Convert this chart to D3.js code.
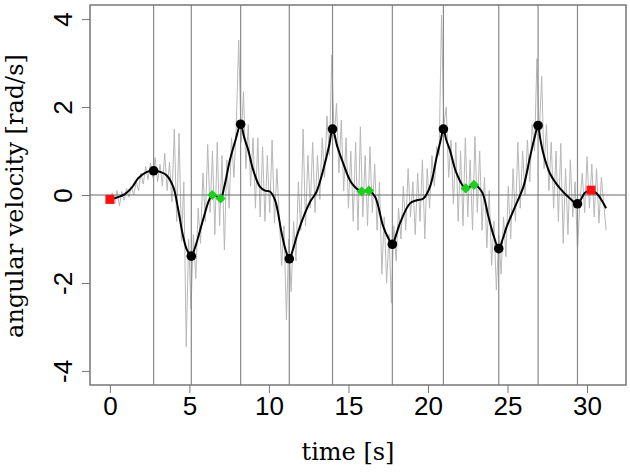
<!DOCTYPE html>
<html>
<head>
<meta charset="utf-8">
<script src="https://cdn.jsdelivr.net/npm/d3@7"></script>
<style>
	body { margin: 0; background: #fff; }
	svg { display: block; }
	.tick text { font-family: "Liberation Sans", Arial, sans-serif; font-size: 26px; fill: #000; }
	.ax_label { font-family: "DejaVu Serif", serif; font-size: 24px; fill: #000; }
</style>
</head>
<body>
<svg id="chart" width="630" height="475"></svg>
<script>
// raw signal, sampled every 0.15 s
let raw_dt = 0.15;
let raw_vals = [
	-0.08, 0.05, -0.2, 0.1, -0.25, 0.08, -0.12, 0.15, -0.05, 0.2, 0.0,
	0.3, 0.1, 0.5, 0.25, 0.65, 0.35, 0.72, 0.4,
	0.85, 0.3, 0.7, 0.2, 0.95, 0.1, 0.75, -0.15,
	1.5, -0.6, 1.4, -1.05, 0.3,
	-3.45, -1.0, -2.6, -0.9, -1.9,
	-0.3, -1.1, 0.5, -0.6, 1.15, -0.4, 1.0, -0.9, 1.2, -0.7, 0.9,
	-1.25, 0.8, -0.3, 1.3, 0.4, 1.6,
	3.52, 1.2,
	2.35, 0.6, 1.6, 0.2, 1.3,
	-0.3, 1.3, -0.5, 1.1, -0.6, 0.9, -0.4, 1.25, -0.64, 0.6, -0.5,
	-1.6, -0.7, -2.84, -1.0, -2.2, -0.6,
	-1.5, 0.3, -0.8, 1.5, -0.7, 0.9, -0.3, 1.2, -0.4,
	0.9, -0.1, 1.3, 0.4, 1.8, 0.9,
	3.18, 1.3,
	2.08, 0.5, 1.7, 0.1, 1.3, -0.3, 1.0,
	-0.6, 1.2, -0.8, 1.55, -0.5, 0.9, -0.7, 1.1, -0.4, 0.7, -0.8,
	0.3, -1.8, -0.5, -2.0, -0.9, -2.46, -0.7,
	-1.5, -0.3, -1.0, 0.2, -0.8, 0.6, -0.5, 0.3, -0.9, 0.5, -0.6, 0.8, -1.0, 0.6, -0.3, 0.9, 0.2, 1.1,
	0.9, 4.09, 1.6,
	2.0, 0.4, 1.25, -0.2, 1.2, -0.6, 1.0, -0.7, 1.3, -0.5, 0.8, -0.8, 1.33,
	-0.4, 1.0, -0.8, 0.4, -1.2, 0.1,
	-1.6, -0.6, -2.16, -0.9, -1.8, -0.5,
	-1.4, 0.2, -1.0, 0.6, -0.6, 1.2, -0.3, 1.0, 0.0, 1.25, 0.3,
	1.6, 1.0,
	3.1, 1.4, 2.7,
	0.6, 1.6, 0.1, 1.2, -0.3, 1.0, -0.6, 1.17, -1.1, 0.6, -0.9, 0.8, -0.5,
	0.3, -1.25, -0.2, 0.5,
	-0.4, 0.87, -0.3, 0.7, -0.5, 0.6, -0.64, 0.4, -0.2, -0.8
];

// smoothed signal
let smooth_t = [0, 0.5, 0.94, 1.4, 1.78, 2.3, 2.75, 3.2, 3.56, 3.98, 4.3, 4.61, 4.85, 5.12, 5.35, 5.56, 5.97, 6.2, 6.44, 6.7, 6.96, 7.2, 7.55, 7.9, 8.22, 8.45, 8.7, 9.01, 9.43, 9.75, 10.06, 10.38, 10.8, 11.05, 11.28, 11.5, 11.74, 12.26, 12.6, 13.0, 13.52, 13.8, 14.0, 14.3, 14.67, 15.2, 15.83, 16.29, 16.67, 17.19, 17.5, 17.76, 18.0, 18.24, 18.87, 19.3, 19.71, 20.13, 20.55, 20.8, 20.97, 21.15, 21.38, 21.8, 22.37, 22.89, 23.38, 23.8, 24.15, 24.45, 24.7, 24.95, 25.47, 26.0, 26.42, 26.7, 26.92, 27.05, 27.25, 27.67, 28.3, 28.93, 29.4, 29.87, 30.25, 30.6, 31.2];
let smooth_v = [-0.1, -0.05, 0.02, 0.18, 0.38, 0.52, 0.55, 0.52, 0.45, 0.19, -0.34, -0.95, -1.25, -1.39, -1.2, -0.95, -0.42, -0.15, 0.0, -0.03, -0.08, 0.2, 0.8, 1.25, 1.61, 1.3, 1.02, 0.57, 0.19, 0.1, 0.08, -0.11, -0.87, -1.25, -1.45, -1.25, -0.95, -0.42, -0.15, 0.08, 0.72, 1.15, 1.5, 1.1, 0.72, 0.27, 0.08, 0.1, -0.04, -0.72, -0.98, -1.12, -0.9, -0.64, -0.19, -0.12, -0.08, 0.19, 0.87, 1.25, 1.5, 1.25, 1.02, 0.49, 0.15, 0.23, 0.08, -0.49, -0.95, -1.22, -1.0, -0.72, -0.27, 0.19, 0.87, 1.3, 1.58, 1.3, 0.95, 0.49, 0.15, -0.08, -0.2, 0.05, 0.11, 0.04, -0.3];

// extrema (black), start/end (red), plateau points (green)
let ext_t = [2.75, 5.12, 8.22, 11.28, 14.0, 17.76, 20.97, 24.45, 26.92, 29.4];
let ext_v = [0.55, -1.39, 1.61, -1.45, 1.5, -1.12, 1.5, -1.22, 1.58, -0.2];
let red_t = [0.0, 30.25];
let red_v = [-0.1, 0.11];
let green_t = [6.44, 6.96, 15.83, 16.29, 22.37, 22.89];
let green_v = [0.0, -0.08, 0.08, 0.1, 0.15, 0.23];

let x_ticks = [0, 5, 10, 15, 20, 25, 30];
let y_ticks = [-4, -2, 0, 2, 4];

let margin = {left: 90, top: 5, right: 4, bottom: 90};
let width = 630, height = 475;

let svg = d3.select("#chart");

let x = d3.scaleLinear()
	.domain([-1.25, 32.45])
	.range([margin.left, width - margin.right]);
let y = d3.scaleLinear()
	.domain([-4.32, 4.32])
	.range([height - margin.bottom, margin.top]);

let raw = raw_vals.map((v, i) => [i * raw_dt, v]);
let smooth = smooth_t.map((t, i) => [t, smooth_v[i]]);

let line = d3.line()
	.x(d => x(d[0]))
	.y(d => y(d[1]));

svg.append("path")
	.datum(raw)
	.attr("d", line)
	.style("fill", "none")
	.style("stroke", "#b8b8b8")
	.style("stroke-width", "1px");

// vertical markers at the extrema
svg.selectAll(".vline")
	.data(ext_t)
	.enter()
	.append("line")
	.attr("class", "vline")
	.attr("x1", d => x(d))
	.attr("x2", d => x(d))
	.attr("y1", y.range()[0])
	.attr("y2", y.range()[1])
	.style("stroke", "#8a8a8a")
	.style("stroke-width", "1.2px");

svg.append("line")
	.attr("x1", x.range()[0])
	.attr("x2", x.range()[1])
	.attr("y1", y(0))
	.attr("y2", y(0))
	.style("stroke", "#6a6a6a")
	.style("stroke-width", "1.2px");

svg.append("path")
	.datum(smooth)
	.attr("d", line.curve(d3.curveCatmullRom.alpha(0.5)))
	.style("fill", "none")
	.style("stroke", "#000")
	.style("stroke-width", "2px");

svg.selectAll(".ext")
	.data(ext_t)
	.enter()
	.append("circle")
	.attr("class", "ext")
	.attr("cx", d => x(d))
	.attr("cy", (d, i) => y(ext_v[i]))
	.attr("r", 4.8)
	.style("fill", "#000");

svg.selectAll(".green")
	.data(green_t)
	.enter()
	.append("path")
	.attr("class", "green")
	.attr("d", d3.symbol().type(d3.symbolSquare).size(52))
	.attr("transform", (d, i) => `translate(${x(d)},${y(green_v[i])}) rotate(45)`)
	.style("fill", "#1ccf1c");

svg.selectAll(".red")
	.data(red_t)
	.enter()
	.append("rect")
	.attr("class", "red")
	.attr("x", d => x(d) - 4.5)
	.attr("y", (d, i) => y(red_v[i]) - 4.5)
	.attr("width", 9)
	.attr("height", 9)
	.style("fill", "#ff1010");

// axes
let x_axis = svg.append("g")
	.attr("transform", `translate(0,${y.range()[0]})`)
	.call(d3.axisBottom(x).tickValues(x_ticks).tickSize(8).tickPadding(4).tickFormat(d => String(d)));
x_axis.select(".domain").remove();
x_axis.selectAll(".tick line").style("stroke", "#777");

let y_axis = svg.append("g")
	.attr("transform", `translate(${x.range()[0]},0)`)
	.call(d3.axisLeft(y).tickValues(y_ticks).tickSize(8).tickFormat(d => String(d)));
y_axis.select(".domain").remove();
y_axis.selectAll(".tick line").style("stroke", "#777");
y_axis.selectAll(".tick text")
	.attr("x", null)
	.attr("dy", null)
	.attr("text-anchor", "middle")
	.attr("transform", "translate(-18,0) rotate(-90)");

svg.append("rect")
	.attr("x", x.range()[0])
	.attr("y", y.range()[1])
	.attr("width", x.range()[1] - x.range()[0])
	.attr("height", y.range()[0] - y.range()[1])
	.style("fill", "none")
	.style("stroke", "#777")
	.style("stroke-width", "1.5px");

svg.append("text")
	.attr("class", "ax_label")
	.attr("x", 348)
	.attr("y", 460)
	.attr("text-anchor", "middle")
	.text("time [s]");

svg.append("text")
	.attr("class", "ax_label")
	.attr("transform", "translate(23,196) rotate(-90)")
	.attr("text-anchor", "middle")
	.text("angular velocity [rad/s]");
</script>
</body>
</html>
